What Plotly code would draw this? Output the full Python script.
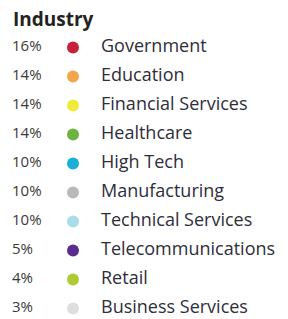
import plotly.graph_objects as go

title = "Industry"
industries = ["Government", "Education", "Financial Services", "Healthcare", "High Tech",
              "Manufacturing", "Technical Services", "Telecommunications", "Retail", "Business Services"]
shares = [16, 14, 14, 14, 10, 10, 10, 5, 4, 3]
colors = ["#C8203A", "#F5A54A", "#F0EA3A", "#6DB33F", "#1AAFD8",
          "#B9B9B9", "#A9DCE8", "#5A2C8E", "#AECB35", "#DEDEDE"]

W, H = 288, 319
row0, step = 47.5, 29.0
rows = list(range(len(industries)))

x_pct, x_dot, x_lbl = 12, 73, 101

fig = go.Figure()
fig.add_trace(go.Scatter(
    x=[x_pct] * len(rows), y=rows, mode="text",
    text=[f"{s}%" for s in shares], textposition="middle right",
    textfont=dict(family="Open Sans", size=15, color="#3a3a3a"),
    hoverinfo="skip", showlegend=False, cliponaxis=False))
fig.add_trace(go.Scatter(
    x=[x_dot] * len(rows), y=rows, mode="markers",
    marker=dict(size=12, color=colors, line=dict(width=0)),
    hoverinfo="skip", showlegend=False, cliponaxis=False))
fig.add_trace(go.Scatter(
    x=[x_lbl] * len(rows), y=rows, mode="text",
    text=industries, textposition="middle right",
    textfont=dict(family="Open Sans", size=18, color="#2e2e3a"),
    hoverinfo="skip", showlegend=False, cliponaxis=False))

y_top = -row0 / step
y_bot = (H - row0) / step

fig.update_layout(
    width=W, height=H,
    margin=dict(l=0, r=0, t=0, b=0),
    paper_bgcolor="white", plot_bgcolor="white",
    xaxis=dict(range=[0, W], visible=False, fixedrange=True),
    yaxis=dict(range=[y_bot, y_top], visible=False, fixedrange=True),
    annotations=[dict(
        text=f"<b>{title}</b>", x=11, y=y_top + 18.5 / step, xref="x", yref="y",
        xanchor="left", yanchor="middle", showarrow=False,
        font=dict(family="Open Sans", size=19, color="#222222"))],
)

fig.write_html("out.html", config={"displayModeBar": False},
               post_script="document.body.style.margin='0';document.body.style.overflow='hidden';")
